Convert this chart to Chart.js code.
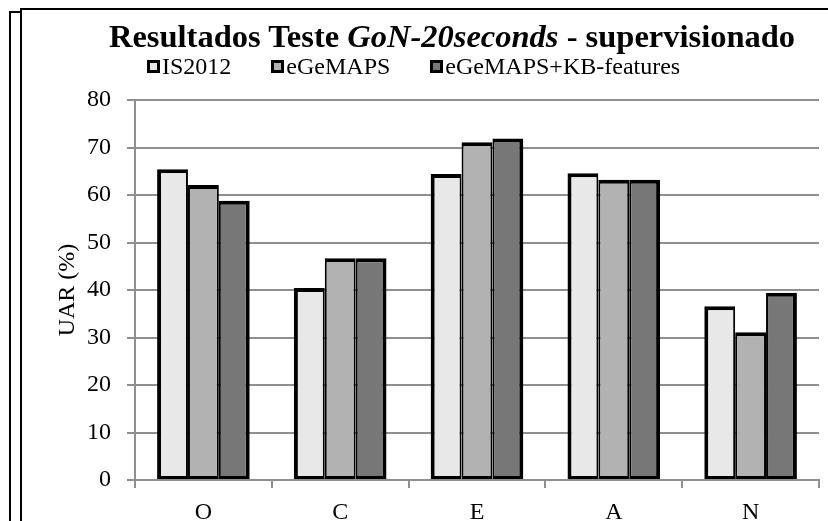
<!DOCTYPE html>
<html>
<head>
<meta charset="utf-8">
<script src="https://cdn.jsdelivr.net/npm/chart.js@4.4.0/dist/chart.umd.min.js"></script>
<style>
  body { margin: 0; background: #fff; }
  #wrap { position: relative; width: 828px; height: 521px; overflow: hidden; font-family: "Liberation Serif", "Times New Roman", serif; color: #000; }
  canvas { position: absolute; left: 0; top: 0; }
  .ln { position: absolute; background: #000; }
  #title { position: absolute; left: 0; width: 904px; top: 16px; text-align: center; font-weight: bold; font-size: 32.5px; line-height: 40px; white-space: nowrap; }
  #legend { position: absolute; left: 147px; top: 52px; font-size: 24px; line-height: 28px; display: flex; white-space: nowrap; }
  .item { display: flex; align-items: center; margin-right: 40px; }
  .box { width: 7px; height: 7px; border: 3px solid #000; margin-right: 2px; }
</style>
</head>
<body>
<div id="wrap">
  <canvas id="chart" width="828" height="521"></canvas>
  <!-- frame lines -->
  <div class="ln" style="left:20px;top:8px;width:808px;height:2px"></div>
  <div class="ln" style="left:20px;top:8px;width:2px;height:513px"></div>
  <div class="ln" style="left:9px;top:11px;width:12px;height:2px"></div>
  <div class="ln" style="left:9px;top:11px;width:2px;height:510px"></div>
  <div id="title">Resultados Teste <i>GoN-20seconds</i> - supervisionado</div>
  <div id="legend"></div>
</div>
<script>
const categories = ['O', 'C', 'E', 'A', 'N'];
const seriesNames = ['IS2012', 'eGeMAPS', 'eGeMAPS+KB-features'];
const is2012 = [65.4, 40.4, 64.4, 64.6, 36.6];
const egemaps = [62.1, 46.7, 71.1, 63.2, 31.1];
const egemapsKb = [58.8, 46.7, 71.9, 63.2, 39.4];
const seriesColors = ['#e8e8e8', '#b2b2b2', '#777777'];
const yTicks = [0, 10, 20, 30, 40, 50, 60, 70, 80];

const serif = '"Liberation Serif", "Times New Roman", serif';
const gridGray = '#8f8f8f';

// borders shared between neighbouring bars, like the original
const borders = [
  { top: 4, bottom: 3, left: 4, right: 2 },
  { top: 4, bottom: 3, left: 2, right: 2 },
  { top: 4, bottom: 3, left: 2, right: 4 }
];

const datasets = [is2012, egemaps, egemapsKb].map((vals, i) => ({
  label: seriesNames[i],
  data: vals,
  backgroundColor: seriesColors[i],
  borderColor: '#000',
  borderWidth: borders[i],
  borderSkipped: false
}));

// legend
const legend = document.getElementById('legend');
seriesNames.forEach((name, i) => {
  const item = document.createElement('div');
  item.className = 'item';
  const box = document.createElement('span');
  box.className = 'box';
  box.style.background = seriesColors[i];
  item.appendChild(box);
  item.appendChild(document.createTextNode(name));
  legend.appendChild(item);
});

new Chart(document.getElementById('chart'), {
  type: 'bar',
  data: { labels: categories, datasets: datasets },
  options: {
    responsive: false,
    animation: false,
    devicePixelRatio: 1,
    layout: { padding: { left: 53, top: 100, right: 9, bottom: 0 } },
    datasets: { bar: { categoryPercentage: 0.677, barPercentage: 1 } },
    plugins: {
      legend: { display: false },
      tooltip: { enabled: false }
    },
    scales: {
      x: {
        grid: { display: true, drawOnChartArea: false, drawTicks: true, tickLength: 8, color: gridGray, lineWidth: 2, offset: true },
        border: { color: gridGray, width: 2 },
        ticks: { color: '#000', font: { family: serif, size: 24 }, padding: 10 },
        afterFit: s => { s.height = 41; }
      },
      y: {
        min: 0,
        max: 80,
        afterBuildTicks: s => { s.ticks = yTicks.map(v => ({ value: v })); },
        grid: { color: gridGray, lineWidth: 2, tickLength: 8 },
        border: { color: gridGray, width: 2 },
        ticks: { color: '#000', font: { family: serif, size: 24 }, padding: 16 },
        title: { display: true, text: 'UAR (%)', color: '#000', font: { family: serif, size: 24 }, padding: { top: 0, bottom: 0 } },
        afterFit: s => { s.width = 82; }
      }
    }
  }
});
</script>
</body>
</html>
